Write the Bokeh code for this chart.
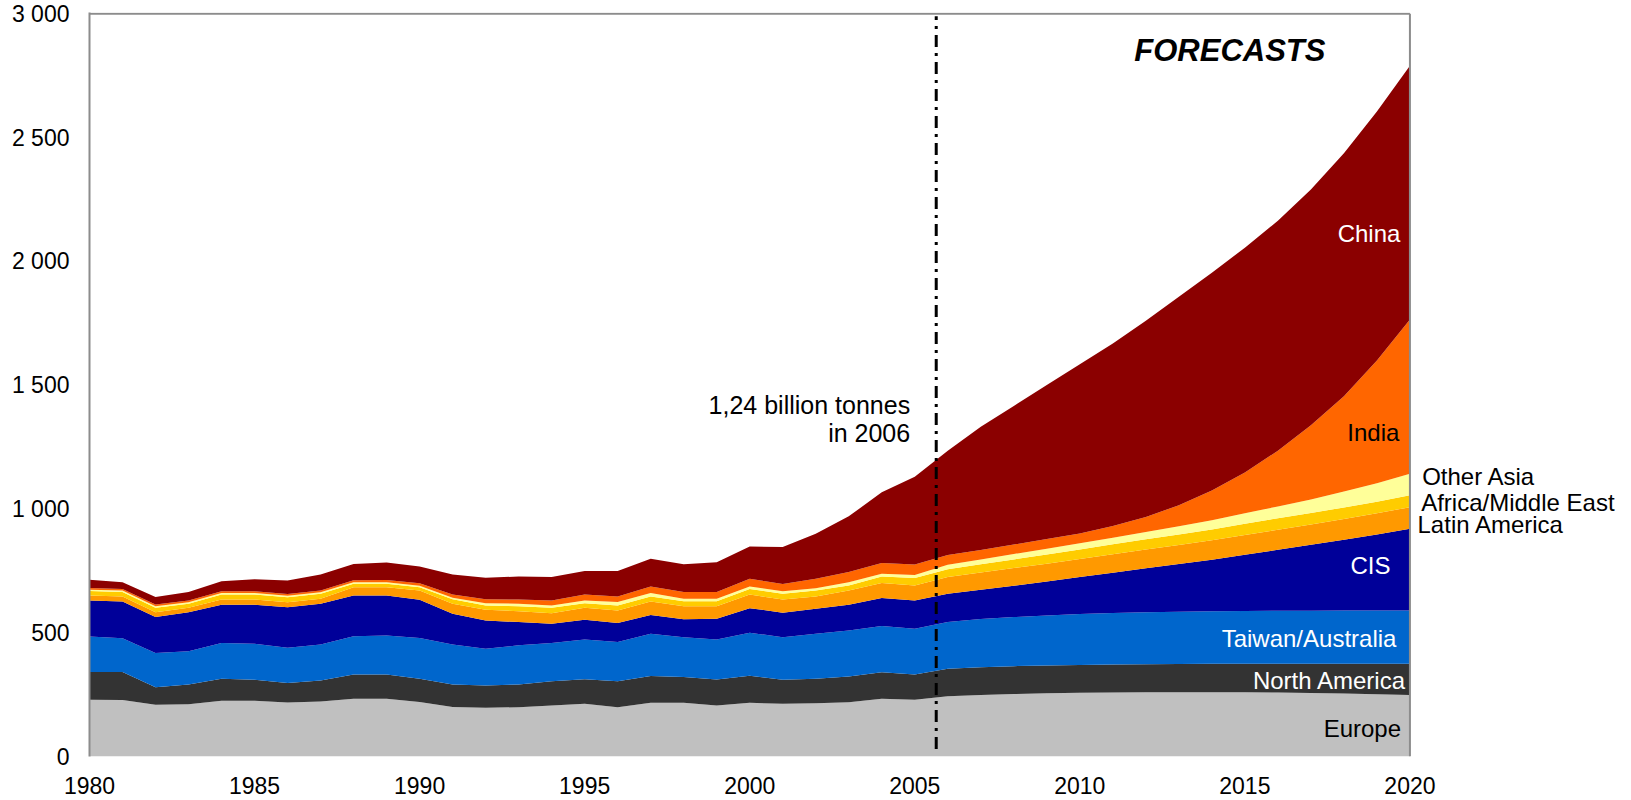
from bokeh.plotting import figure
from bokeh.models import ColumnDataSource, Range1d, FixedTicker, Span, Label
from bokeh.embed import file_html
from bokeh.resources import INLINE

years = list(range(1980, 2021))
europe = [229, 228, 209, 211, 225, 225, 218, 222, 233, 233, 220, 200, 197, 199, 206, 213, 199, 217, 217, 206, 217, 213, 215, 219, 233, 229,
          243, 248, 252, 255, 257, 258, 259, 260, 260, 259, 258, 256, 254, 251, 248]
north_america = [112, 113, 71, 80, 89, 85, 79, 85, 98, 98, 94, 91, 90, 92, 98, 99, 105, 108, 104, 105, 109, 97, 99, 104, 107, 102,
                 111, 112, 113, 113, 113, 114, 114, 114, 115, 116, 117, 119, 121, 124, 127]
taiwan_australia = [144, 137, 138, 134, 144, 145, 142, 145, 155, 158, 165, 161, 148, 158, 154, 161, 158, 171, 161, 162, 174, 172, 182, 186, 187, 185,
                    189, 195, 198, 202, 206, 208, 210, 211, 212, 213, 214, 214, 215, 215, 215]
cis = [145, 148, 145, 158, 155, 158, 164, 165, 164, 161, 154, 125, 114, 94, 78, 79, 77, 76, 72, 83, 99, 99, 101, 104, 113, 114,
       114, 118, 127, 137, 149, 162, 177, 192, 208, 227, 246, 266, 285, 307, 330]
latin_america = [20, 20, 20, 18, 21, 21, 20, 20, 34, 34, 37, 40, 44, 44, 43, 49, 51, 54, 53, 51, 55, 53, 49, 57, 61, 61,
                 68, 70, 71, 72, 73, 75, 76, 77, 78, 80, 81, 82, 84, 85, 87]
africa_me = [18, 18, 18, 16, 20, 20, 20, 20, 14, 14, 14, 18, 17, 20, 22, 18, 20, 20, 20, 20, 23, 23, 24, 21, 26, 30,
             31, 33, 35, 37, 38, 40, 41, 43, 44, 45, 46, 46, 47, 47, 48]
other_asia = [6, 6, 6, 6, 6, 6, 6, 6, 6, 6, 6, 6, 9, 10, 9, 11, 14, 14, 10, 10, 10, 10, 10, 13, 11, 12,
              18, 20, 22, 23, 25, 27, 30, 33, 37, 42, 48, 55, 64, 75, 87]
india = [7, 7, 7, 7, 7, 7, 7, 7, 8, 9, 10, 13, 16, 17, 20, 24, 22, 27, 27, 27, 31, 30, 38, 41, 44, 42,
         40, 38, 38, 39, 40, 47, 60, 85, 120, 165, 225, 300, 385, 495, 623]
china = [33, 27, 30, 34, 41, 49, 55, 65, 66, 71, 67, 81, 87, 93, 95, 95, 103, 112, 112, 121, 130, 149, 182, 225, 285, 355,
         421, 498, 560, 622, 683, 737, 793, 842, 880, 908, 929, 952, 982, 1006, 1025]

series_names = ["Europe", "North America", "Taiwan/Australia", "CIS", "Latin America",
                "Africa/Middle East", "Other Asia", "India", "China"]
series_values = [europe, north_america, taiwan_australia, cis, latin_america,
                 africa_me, other_asia, india, china]
colors = ["#c0c0c0", "#333333", "#0066cc", "#000099", "#ff9900",
          "#ffcc00", "#ffff99", "#ff6600", "#8b0000"]

y_ticks = [0, 500, 1000, 1500, 2000, 2500, 3000]
y_tick_labels = ["0", "500", "1 000", "1 500", "2 000", "2 500", "3 000"]
x_ticks = [1980, 1985, 1990, 1995, 2000, 2005, 2010, 2015, 2020]
forecast_start = 2005.65

FONT = "Liberation Sans"
FRAME = "#8c8c8c"

data = {"year": years}
for n, v in zip(series_names, series_values):
    data[n] = v
source = ColumnDataSource(data)

# frame extends past 2020 so that the outside labels stay inside the drawing area
p = figure(width=1631, height=800, output_backend="svg", toolbar_location=None,
           x_range=Range1d(1980, 2026.5), y_range=Range1d(0, 3005),
           min_border_left=89, min_border_right=7, min_border_top=12, min_border_bottom=44)
p.varea_stack(stackers=series_names, x="year", color=colors, source=source)

p.xgrid.visible = False
p.ygrid.visible = False
p.outline_line_color = None

# top and right edges of the chart box
p.segment(x0=[1980, 2020], y0=[3000, 0], x1=[2020, 2020], y1=[3000, 3000],
          line_color=FRAME, line_width=2)

p.xaxis.ticker = FixedTicker(ticks=x_ticks)
p.yaxis.ticker = FixedTicker(ticks=y_ticks)
p.yaxis.major_label_overrides = {t: l for t, l in zip(y_ticks, y_tick_labels)}
for ax in (p.xaxis[0], p.yaxis[0]):
    ax.major_tick_line_color = None
    ax.minor_tick_line_color = None
    ax.major_label_text_font = FONT
    ax.major_label_text_font_size = "23px"
    ax.major_label_text_color = "#000000"
p.xaxis.axis_line_color = None
p.yaxis.axis_line_color = FRAME
p.yaxis.axis_line_width = 2
p.yaxis.major_label_standoff = 14
p.xaxis.major_label_standoff = 14

p.segment(x0=[forecast_start], y0=[30], x1=[forecast_start], y1=[2990],
          line_color="black", line_width=3, line_dash="12 6 3 6")

def lab(x, y, text, color="black", align="right", size="24px", style="normal"):
    p.add_layout(Label(x=x, y=y, text=text, text_color=color, text_align=align,
                       text_baseline="middle", text_font=FONT, text_font_size=size,
                       text_font_style=style))

lab(2011.65, 2852, "FORECASTS", align="left", size="31px", style="bold italic")
lab(2004.86, 1418, "1,24 billion tonnes", size="25px")
lab(2004.86, 1305, "in 2006", size="25px")
lab(2019.71, 2113, "China", color="white")
lab(2019.68, 1309, "India")
lab(2019.41, 772, "CIS", color="white")
lab(2019.59, 477, "Taiwan/Australia", color="white")
lab(2019.89, 307, "North America", color="white")
lab(2019.73, 113, "Europe")
lab(2020.37, 1131, "Other Asia", align="left")
lab(2020.34, 1027, "Africa/Middle East", align="left")
lab(2020.23, 937, "Latin America", align="left")

open("out.html", "w").write(file_html(p, INLINE))
